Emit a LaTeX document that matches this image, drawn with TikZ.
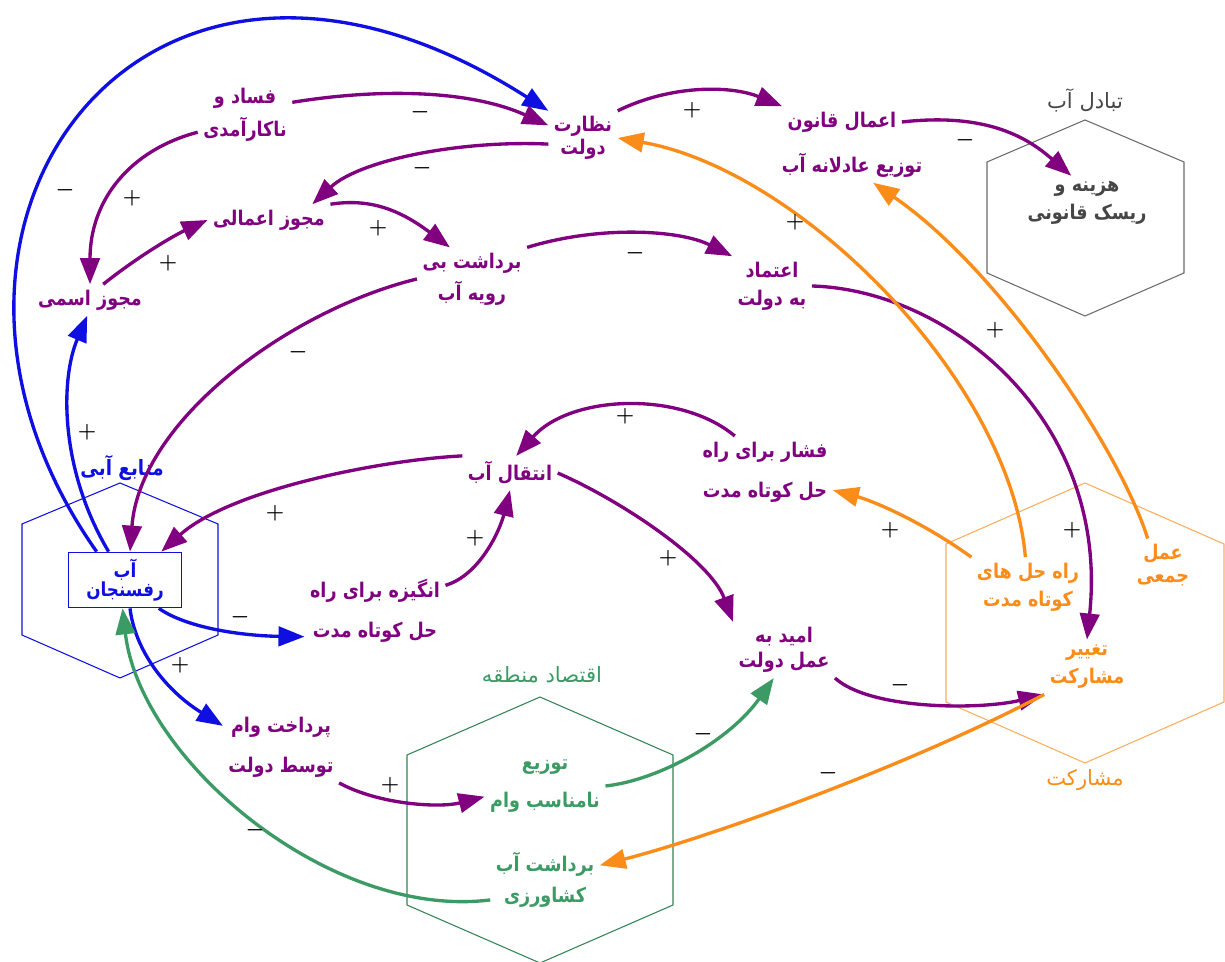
\documentclass[tikz,border=0pt]{standalone}
\usepackage{fontspec}
\usetikzlibrary{arrows.meta}
\TeXXeTstate=1
\newfontfamily\farsi[Script=Arabic]{DejaVu Sans}
\newfontfamily\farsin[Script=Arabic,FakeStretch=0.87]{DejaVu Sans}
\newcommand\fatxt[1]{\beginR #1\endR}
\definecolor{fapurple}{RGB}{128,0,128}
\definecolor{fablue}{RGB}{15,15,225}
\definecolor{faorange}{RGB}{250,140,25}
\definecolor{fagreen}{RGB}{60,155,100}
\definecolor{fagray}{RGB}{70,70,70}
\tikzset{
  vtxt/.style={align=center, text=fapurple, inner sep=3pt,
               font=\farsin\bfseries\fontsize{11.5}{16}\selectfont},
  gtxt/.style={align=center, font=\farsi\fontsize{12}{16}\selectfont},
  carr/.style={-{Triangle[length=5.2mm,width=3.9mm]}, line width=1.9pt},
  hexl/.style={line width=0.6pt},
  sgn/.style={font=\fontsize{12}{14}\selectfont\boldmath, inner sep=1pt},
  rbox/.style={draw=fablue, line width=1pt, text=fablue, align=center,
               minimum width=2.26cm, minimum height=1.1cm, inner sep=1pt,
               font=\farsin\bfseries\fontsize{11}{8}\selectfont},
}
\begin{document}
\begin{tikzpicture}[x=0.02cm,y=-0.02cm]
  \useasboundingbox[fill=white] (0,0) rectangle (1225,962);
  % group hexagons
  \draw[hexl,fagray!80] (1085,120) -- (1184,162) -- (1184,273) -- (1085,316) -- (987,273) -- (987,162) -- cycle;
  \draw[hexl,fablue] (120,483) -- (218,524) -- (218,635) -- (120,678) -- (22,635) -- (22,524) -- cycle;
  \draw[hexl,fagreen!85!black] (540,697) -- (673,755) -- (673,905) -- (540,963) -- (407,905) -- (407,755) -- cycle;
  \draw[hexl,faorange!70] (1085,483) -- (1224,544) -- (1224,702) -- (1085,763) -- (946,702) -- (946,544) -- cycle;
  \node[gtxt,text=fagray] (gtabadol) at (1085,100) {\fatxt{تبادل آب}};
  \node[gtxt,text=fablue,font=\farsin\bfseries\fontsize{12}{16}\selectfont] (gmanabe) at (122,468) {\fatxt{منابع آبی}};
  \node[gtxt,text=fagreen] (geghtesad) at (542,675) {\fatxt{اقتصاد منطقه}};
  \node[gtxt,text=faorange] (gmosharekat) at (1085,780) {\fatxt{مشارکت}};

  % variables
  \node[vtxt] (fasad) at (245,115) {\fatxt{فساد و}\\[3pt]\fatxt{ناکارآمدی}};
  \node[vtxt] (nazarat) at (583,138) {\fatxt{نظارت}\\[-3pt]\fatxt{دولت}};
  \node[vtxt] (ejra) at (842,122) {\fatxt{اعمال قانون}};
  \node[vtxt] (adalat) at (852,165) {\fatxt{توزیع عادلانه آب}};
  \node[vtxt,text=fagray] (hazine) at (1087,203) {\fatxt{هزینه و}\\\fatxt{ریسک قانونی}};
  \node[vtxt] (amali) at (269,220) {\fatxt{مجوز اعمالی}};
  \node[vtxt] (ismi) at (90,300) {\fatxt{مجوز اسمی}};
  \node[vtxt] (biraviye) at (472,279) {\fatxt{برداشت بی}\\[2pt]\fatxt{رویه آب}};
  \node[vtxt] (etemad) at (772,286) {\fatxt{اعتماد}\\\fatxt{به دولت}};
  \node[vtxt] (enteghal) at (510,473) {\fatxt{انتقال آب}};
  \node[vtxt] (feshar) at (765,472) {\fatxt{فشار برای راه}\\[7pt]\fatxt{حل کوتاه مدت}};
  \node[vtxt] (angize) at (375,611) {\fatxt{انگیزه برای راه}\\[7pt]\fatxt{حل کوتاه مدت}};
  \node[vtxt] (omid) at (784,650) {\fatxt{امید به}\\[-2pt]\fatxt{عمل دولت}};
  \node[rbox] (raf) at (125,580) {\fatxt{آب}\\\fatxt{رفسنجان}};
  \node[vtxt] (pardakht) at (281,747) {\fatxt{پرداخت وام}\\[7pt]\fatxt{توسط دولت}};
  \node[vtxt,text=fagreen] (tozi) at (545,786) {\fatxt{توزیع}\\[6pt]\fatxt{نامناسب وام}};
  \node[vtxt,text=fagreen] (keshavarzi) at (545,880) {\fatxt{برداشت آب}\\[2pt]\fatxt{کشاورزی}};
  \node[vtxt,text=faorange] (rahhal) at (1028,587) {\fatxt{راه حل های}\\\fatxt{کوتاه مدت}};
  \node[vtxt,text=faorange] (jamei) at (1163,565) {\fatxt{عمل}\\[-3pt]\fatxt{جمعی}};
  \node[vtxt,text=faorange] (tagir) at (1087,667) {\fatxt{تغییر}\\\fatxt{مشارکت}};

  % blue links
  \draw[carr,fablue] (raf.135) .. controls (-130,230) and (140,-150) .. (nazarat.north west);
  \draw[carr,fablue] (raf.120) .. controls (60,470) and (60,380) .. (ismi.-100);
  \draw[carr,fablue] (raf.-40) .. controls (190,630) and (250,636) .. (angize.200);
  \draw[carr,fablue] (raf.-80) .. controls (135,650) and (165,690) .. (pardakht.160);
  % purple links
  \draw[carr,fapurple] (fasad.15) .. controls (380,88) and (470,90) .. (nazarat.160);
  \draw[carr,fapurple] (fasad.200) .. controls (130,150) and (90,200) .. (ismi.north);
  \draw[carr,fapurple] (nazarat.190) .. controls (460,140) and (360,160) .. (amali.20);
  \draw[carr,fapurple] (ismi.50) .. controls (140,255) and (175,235) .. (amali.west);
  \draw[carr,fapurple] (amali.north east) .. controls (370,198) and (400,210) .. (biraviye.125);
  \draw[carr,fapurple] (nazarat.north east) .. controls (670,85) and (730,85) .. (ejra.north west);
  \draw[carr,fapurple] (ejra.east) .. controls (990,112) and (1030,140) .. (hazine.120);
  \draw[carr,fapurple] (biraviye.north east) .. controls (600,225) and (680,230) .. (etemad.north west);
  \draw[carr,fapurple] (etemad.east) .. controls (950,290) and (1110,420) .. (tagir.north);
  \draw[carr,fapurple] (biraviye.west) .. controls (290,310) and (140,420) .. (raf.80);
  \draw[carr,fapurple] (enteghal.north west) .. controls (380,460) and (230,490) .. (raf.38);
  \draw[carr,fapurple] (feshar.130) .. controls (680,390) and (570,395) .. (enteghal.70);
  \draw[carr,fapurple] (angize.20) .. controls (480,575) and (500,530) .. (enteghal.south);
  \draw[carr,fapurple] (enteghal.east) .. controls (620,500) and (710,560) .. (omid.north west);
  \draw[carr,fapurple] (omid.south east) .. controls (870,710) and (980,710) .. (tagir.south west);
  \draw[carr,fapurple] (pardakht.south east) .. controls (380,805) and (440,808) .. (tozi.190);
  % orange links
  \draw[carr,faorange] (rahhal.north west) .. controls (920,520) and (870,500) .. (feshar.-15);
  \draw[carr,faorange] (rahhal.95) .. controls (1010,380) and (800,170) .. (nazarat.east);
  \draw[carr,faorange] (jamei.120) .. controls (1120,450) and (1000,270) .. (adalat.-40);
  \draw[carr,faorange] (tagir.south west) .. controls (900,770) and (700,840) .. (keshavarzi.15);
  % green links
  \draw[carr,fagreen] (tozi.east) .. controls (660,780) and (730,740) .. (omid.-110);
  \draw[carr,fagreen] (keshavarzi.200) .. controls (330,920) and (140,760) .. (raf.-95);

  % polarities
  \foreach [count=\i] \px/\py/\s in {65/190/$-$, 132/198/$+$, 420/112/$-$, 422/168/$-$,
      168/263/$+$, 378/228/$+$, 692/110/$+$, 965/140/$-$, 635/253/$-$, 795/222/$+$,
      995/330/$+$, 298/352/$-$, 87/432/$+$, 625/416/$+$, 275/513/$+$, 475/538/$+$,
      668/558/$+$, 890/530/$+$, 1072/530/$+$, 240/617/$-$, 180/665/$+$, 900/685/$-$,
      703/734/$-$, 390/785/$+$, 828/773/$-$, 255/830/$-$}
    \node[sgn] (sg\i) at (\px,\py) {\s};
\end{tikzpicture}
\end{document}
